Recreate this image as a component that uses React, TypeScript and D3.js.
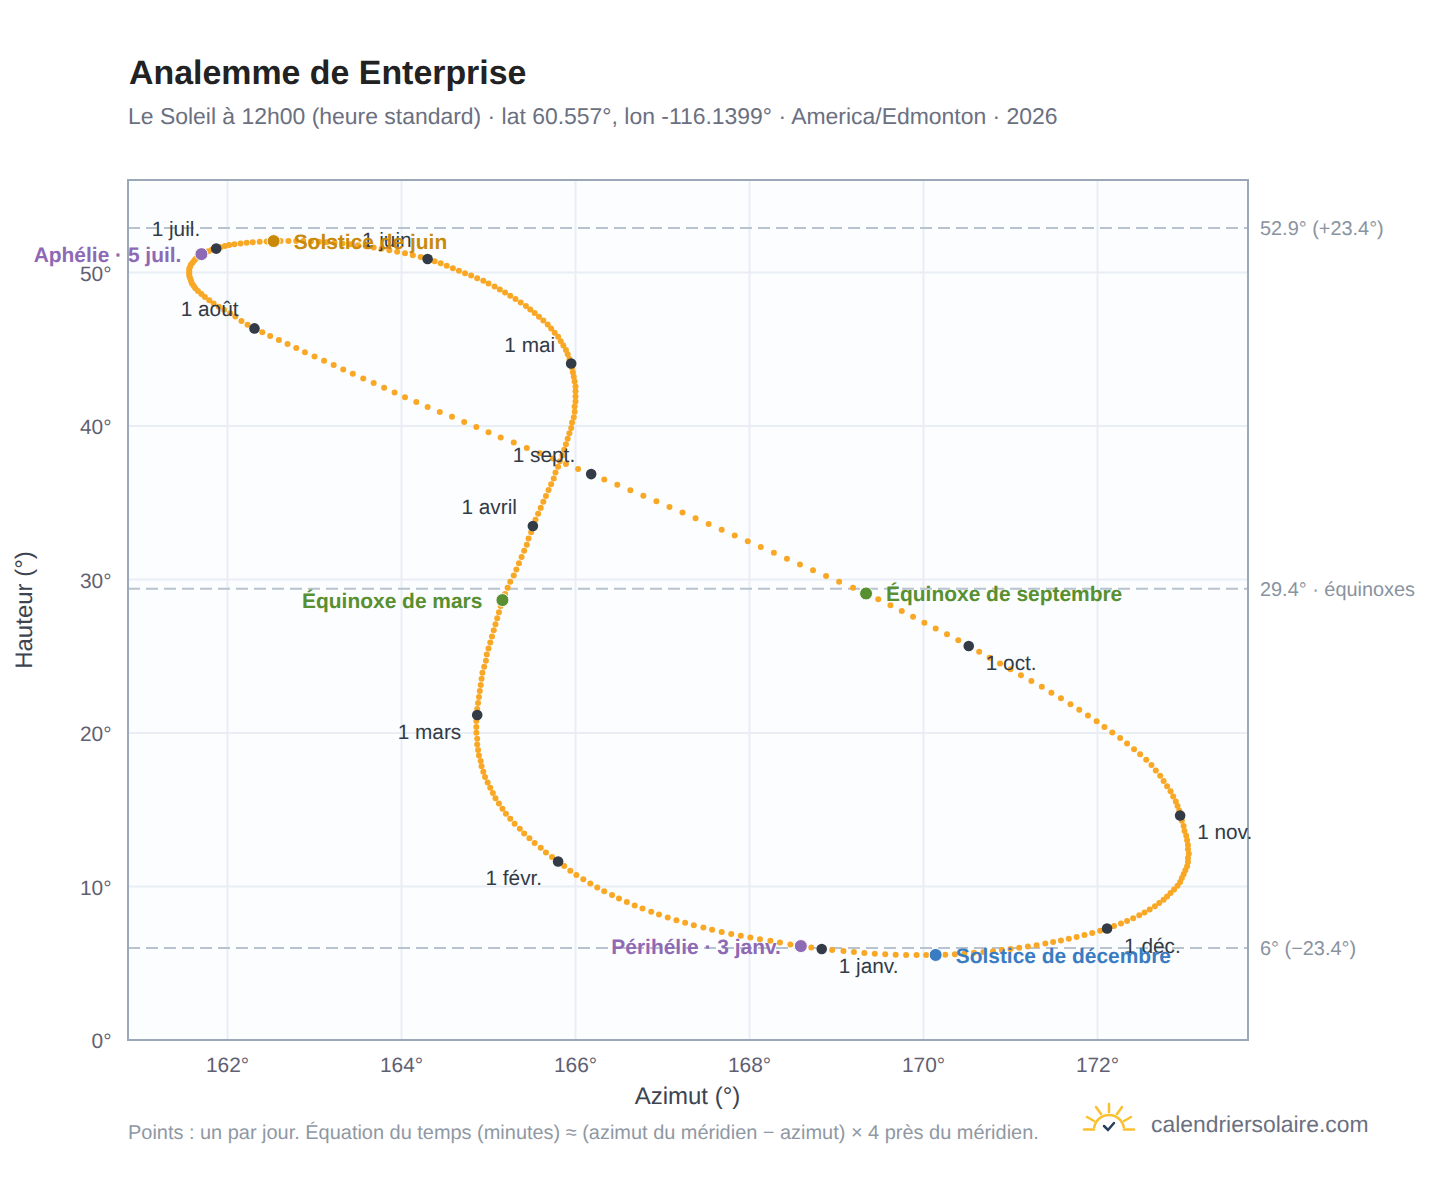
import React from "react";
import * as d3 from "d3";

const azJan = [168.83,168.71,168.59,168.47,168.35,168.24,168.12,168.01,167.90,167.79,167.68,167.57,167.47,167.36,167.26,167.16,167.06,166.96,166.87,166.77,166.68,166.59,166.50,166.42,166.33,166.25,166.17,166.09,166.01,165.94,165.87];
const azFeb = [165.80,165.73,165.66,165.60,165.53,165.47,165.41,165.36,165.30,165.25,165.20,165.16,165.12,165.08,165.05,165.02,164.99,164.96,164.94,164.92,164.91,164.89,164.88,164.87,164.87,164.86,164.86,164.86];
const azMar = [164.87,164.87,164.88,164.89,164.90,164.91,164.92,164.93,164.95,164.97,164.98,165.00,165.02,165.04,165.06,165.08,165.10,165.12,165.14,165.16,165.19,165.22,165.25,165.29,165.32,165.35,165.38,165.41,165.44,165.46,165.49];
const azApr = [165.51,165.54,165.57,165.60,165.63,165.66,165.69,165.72,165.75,165.77,165.80,165.82,165.85,165.87,165.89,165.91,165.93,165.95,165.96,165.98,165.99,165.99,166.00,166.00,166.00,166.00,165.99,165.98,165.97,165.96];
const azMay = [165.95,165.93,165.91,165.89,165.86,165.83,165.80,165.76,165.72,165.68,165.63,165.58,165.53,165.48,165.43,165.37,165.31,165.25,165.19,165.13,165.07,165.00,164.94,164.87,164.80,164.73,164.66,164.59,164.52,164.45,164.38];
const azJun = [164.30,164.22,164.13,164.04,163.95,163.86,163.77,163.68,163.59,163.50,163.41,163.32,163.23,163.14,163.05,162.96,162.87,162.79,162.70,162.61,162.53,162.45,162.37,162.29,162.22,162.15,162.08,162.02,161.97,161.92];
const azJul = [161.87,161.82,161.78,161.74,161.70,161.67,161.64,161.62,161.60,161.58,161.57,161.56,161.56,161.56,161.56,161.57,161.58,161.59,161.61,161.63,161.66,161.70,161.74,161.79,161.84,161.90,161.96,162.03,162.09,162.16,162.23];
const azAug = [162.31,162.40,162.49,162.59,162.69,162.79,162.89,163.00,163.11,163.22,163.33,163.44,163.56,163.68,163.80,163.92,164.04,164.17,164.30,164.44,164.58,164.72,164.86,165.00,165.14,165.29,165.44,165.59,165.74,165.89,166.03];
const azSep = [166.18,166.33,166.48,166.63,166.78,166.93,167.08,167.23,167.38,167.53,167.68,167.83,167.98,168.13,168.28,168.43,168.58,168.73,168.88,169.03,169.19,169.34,169.48,169.62,169.75,169.88,170.01,170.14,170.27,170.40];
const azOct = [170.52,170.64,170.76,170.88,171.00,171.12,171.24,171.36,171.47,171.58,171.69,171.79,171.89,171.99,172.08,172.17,172.26,172.34,172.42,172.49,172.56,172.62,172.67,172.72,172.76,172.80,172.84,172.87,172.90,172.92,172.94];
const azNov = [172.95,172.97,172.99,173.00,173.02,173.03,173.04,173.04,173.05,173.04,173.04,173.03,173.01,172.99,172.97,172.95,172.92,172.88,172.84,172.80,172.76,172.71,172.66,172.60,172.54,172.48,172.41,172.34,172.27,172.19];
const azDec = [172.11,172.03,171.94,171.85,171.76,171.67,171.58,171.49,171.40,171.30,171.20,171.10,171.00,170.90,170.80,170.69,170.58,170.47,170.36,170.25,170.14,170.03,169.92,169.80,169.68,169.56,169.44,169.32,169.20,169.08,168.95];

const altJan = [5.93,6.02,6.12,6.23,6.35,6.47,6.57,6.68,6.79,6.91,7.04,7.18,7.33,7.48,7.64,7.80,7.98,8.17,8.36,8.56,8.77,8.99,9.22,9.45,9.69,9.94,10.20,10.47,10.75,11.03,11.33];
const altFeb = [11.63,11.92,12.22,12.52,12.83,13.14,13.45,13.77,14.09,14.41,14.74,15.07,15.41,15.75,16.09,16.43,16.78,17.13,17.48,17.83,18.18,18.54,18.90,19.26,19.62,20.02,20.39,20.78];
const altMar = [21.17,21.56,21.95,22.34,22.74,23.13,23.53,23.92,24.32,24.71,25.11,25.50,25.90,26.29,26.69,27.08,27.48,27.87,28.27,28.66,29.06,29.46,29.86,30.26,30.66,31.06,31.47,31.87,32.27,32.68,33.08];
const altApr = [33.49,33.89,34.28,34.67,35.06,35.45,35.83,36.21,36.59,36.97,37.34,37.71,38.08,38.45,38.81,39.17,39.53,39.88,40.23,40.58,40.93,41.27,41.60,41.93,42.26,42.58,42.90,43.21,43.50,43.79];
const altMay = [44.07,44.37,44.67,44.96,45.25,45.53,45.81,46.08,46.35,46.61,46.87,47.12,47.36,47.59,47.82,48.05,48.27,48.49,48.70,48.90,49.09,49.28,49.46,49.63,49.80,49.96,50.12,50.28,50.44,50.60,50.74];
const altJun = [50.88,51.01,51.13,51.25,51.36,51.46,51.55,51.63,51.71,51.78,51.84,51.89,51.94,51.98,52.01,52.04,52.05,52.06,52.06,52.06,52.05,52.03,52.01,51.98,51.94,51.90,51.85,51.79,51.73,51.65];
const altJul = [51.56,51.48,51.39,51.30,51.20,51.07,50.94,50.80,50.66,50.52,50.38,50.24,50.09,49.94,49.79,49.63,49.47,49.31,49.14,48.97,48.80,48.60,48.40,48.20,47.99,47.78,47.57,47.35,47.13,46.85,46.60];
const altAug = [46.36,46.11,45.86,45.60,45.34,45.08,44.81,44.53,44.25,43.97,43.69,43.40,43.10,42.80,42.50,42.19,41.88,41.56,41.24,40.92,40.60,40.27,39.93,39.60,39.26,38.92,38.57,38.23,37.88,37.53,37.20];
const altSep = [36.87,36.52,36.17,35.82,35.46,35.10,34.73,34.36,33.99,33.62,33.25,32.87,32.50,32.12,31.74,31.36,30.98,30.60,30.23,29.85,29.47,29.09,28.71,28.33,27.95,27.57,27.19,26.81,26.43,26.05];
const altOct = [25.67,25.29,24.91,24.53,24.15,23.77,23.39,23.01,22.63,22.26,21.88,21.51,21.14,20.77,20.40,20.03,19.67,19.31,18.95,18.61,18.26,17.91,17.56,17.21,16.87,16.53,16.20,15.87,15.54,15.24,14.93];
const altNov = [14.63,14.28,13.94,13.62,13.31,13.01,12.71,12.42,12.14,11.86,11.59,11.32,11.06,10.80,10.55,10.30,10.05,9.81,9.58,9.35,9.13,8.92,8.71,8.51,8.31,8.12,7.94,7.76,7.59,7.42];
const altDec = [7.26,7.11,6.97,6.84,6.71,6.59,6.48,6.38,6.28,6.18,6.09,6.01,5.93,5.86,5.79,5.73,5.68,5.63,5.59,5.56,5.54,5.53,5.53,5.54,5.55,5.58,5.62,5.67,5.73,5.80,5.86];

const azimuth = [azJan,azFeb,azMar,azApr,azMay,azJun,azJul,azAug,azSep,azOct,azNov,azDec];
const altitude = [altJan,altFeb,altMar,altApr,altMay,altJun,altJul,altAug,altSep,altOct,altNov,altDec];

const monthLabels = ["1 janv.","1 févr.","1 mars","1 avril","1 mai","1 juin","1 juil.","1 août","1 sept.","1 oct.","1 nov.","1 déc."];
const monthLabelPlacement: ["start"|"end", number][] = [["start",24],["end",24],["end",24],["end",-12],["end",-12],["end",-12],["end",-13],["end",-12],["end",-12],["start",24],["start",24],["start",24]];

const eventLabels = ["Périhélie · 3 janv.","Équinoxe de mars","Solstice de juin","Aphélie · 5 juil.","Équinoxe de septembre","Solstice de décembre"];
const eventMonth = [0,2,5,6,8,11];
const eventDay = [3,20,21,5,22,21];
const eventColors = ["#8e69b4","#588f30","#c98a0c","#8e69b4","#588f30","#3a7cc1"];
const eventAnchor: ("start"|"end")[] = ["end","end","start","end","start","start"];

const refAltitudes = [52.9,29.4,6];
const refLabels = ["52.9° (+23.4°)","29.4° · équinoxes","6° (−23.4°)"];
const xTicks = [162,164,166,168,170,172];
const yTicks = [0,10,20,30,40,50];

const FONT = "'Liberation Sans', Arial, sans-serif";
const L = 128, R = 1248, T = 180, B = 1040;

export default function App() {
  const x = d3.scaleLinear().domain([160.856, 173.73]).range([L, R]);
  const y = d3.scaleLinear().domain([0, 56.03]).range([B, T]);
  const arc = d3.arc();
  const sunArc = arc({ innerRadius: 15, outerRadius: 15, startAngle: -1.45, endAngle: 1.45 } as any) || "";
  const points = azimuth.flatMap((m, i) => m.map((a, j) => [a, altitude[i][j]] as [number, number]));
  return (
    <svg width={1448} height={1188} viewBox="0 0 1448 1188" style={{ position: "absolute", left: 0, top: 0, background: "#fff", textRendering: "geometricPrecision" }} fontFamily={FONT}>
      <text x={129} y={84} fontSize={33.9} fontWeight={700} fill="#222222">Analemme de Enterprise</text>
      <text x={128} y={124} fontSize={22.95} fill="#6b7080">Le Soleil à 12h00 (heure standard) · lat 60.557°, lon -116.1399° · America/Edmonton · 2026</text>

      <rect x={L} y={T} width={R - L} height={B - T} fill="#fbfdff" />
      {xTicks.map((t) => <line key={t} x1={x(t)} x2={x(t)} y1={T} y2={B} stroke="#e9eef4" strokeWidth={2} />)}
      {yTicks.map((t) => <line key={t} x1={L} x2={R} y1={y(t)} y2={y(t)} stroke="#e9eef4" strokeWidth={2} />)}
      {refAltitudes.map((v) => <line key={v} x1={L} x2={R} y1={y(v)} y2={y(v)} stroke="#b8c3cf" strokeWidth={2} strokeDasharray="12 6" />)}
      <rect x={L} y={T} width={R - L} height={B - T} fill="none" stroke="#9aa8b8" strokeWidth={2} />

      {xTicks.map((t) => <text key={t} x={x(t)} y={1072} textAnchor="middle" fontSize={20.9} fill="#5f6072">{t}°</text>)}
      {yTicks.map((t) => <text key={t} x={111.5} y={y(t) + 8} textAnchor="end" fontSize={20.9} fill="#5f6072">{t}°</text>)}
      {refAltitudes.map((v, i) => <text key={v} x={1260} y={y(v) + 7} fontSize={19.9} fill="#8a93a0">{refLabels[i]}</text>)}

      <text x={687.5} y={1104} textAnchor="middle" fontSize={24} fill="#3d4450">Azimut (°)</text>
      <text transform="translate(32,610) rotate(-90)" textAnchor="middle" fontSize={24} fill="#3d4450">Hauteur (°)</text>

      {points.map((p, i) => <circle key={i} cx={x(p[0])} cy={y(p[1])} r={3} fill="#f9a825" />)}

      {azimuth.map((m, i) => (
        <circle key={i} cx={x(m[0])} cy={y(altitude[i][0])} r={5.3} fill="#333b47" />
      ))}
      {monthLabels.map((label, i) => {
        const [anchor, dy] = monthLabelPlacement[i];
        return <text key={label} x={x(azimuth[i][0]) + (anchor === "start" ? 17 : -16)} y={y(altitude[i][0]) + dy} textAnchor={anchor} fontSize={20.8} fill="#333b47">{label}</text>;
      })}

      {eventLabels.map((label, i) => {
        const cx = x(azimuth[eventMonth[i]][eventDay[i] - 1]);
        const cy = y(altitude[eventMonth[i]][eventDay[i] - 1]);
        return <circle key={label} cx={cx} cy={cy} r={6.5} fill={eventColors[i]} stroke="#ffffff" strokeWidth={1} />;
      })}
      {eventLabels.map((label, i) => {
        const cx = x(azimuth[eventMonth[i]][eventDay[i] - 1]);
        const cy = y(altitude[eventMonth[i]][eventDay[i] - 1]);
        return <text key={label} x={cx + (eventAnchor[i] === "start" ? 20 : -20)} y={cy + 8} textAnchor={eventAnchor[i]} fontSize={20.95} fontWeight={700} fill={eventColors[i]}>{label}</text>;
      })}

      <text x={128} y={1139} fontSize={19.95} fill="#8f98a3">Points : un par jour. Équation du temps (minutes) ≈ (azimut du méridien − azimut) × 4 près du méridien.</text>

      <g transform="translate(1109,1130)" fill="none" stroke="#fbc02d" strokeWidth={2.5} strokeLinecap="round">
        <path d={sunArc} />
        <line x1={-25} x2={-15} y1={-0.5} y2={-0.5} />
        <line x1={15} x2={25} y1={-0.5} y2={-0.5} />
        <line x1={0} x2={0} y1={-26} y2={-18} />
        <line x1={-13} x2={-8} y1={-23} y2={-16} />
        <line x1={13} x2={8} y1={-23} y2={-16} />
        <line x1={-22} x2={-15} y1={-13} y2={-9} />
        <line x1={22} x2={15} y1={-13} y2={-9} />
        <polyline points="-5,-4 -1,0 5,-7" stroke="#27415f" />
      </g>
      <text x={1151} y={1132} fontSize={22.9} fill="#6b7080">calendriersolaire.com</text>
    </svg>
  );
}
